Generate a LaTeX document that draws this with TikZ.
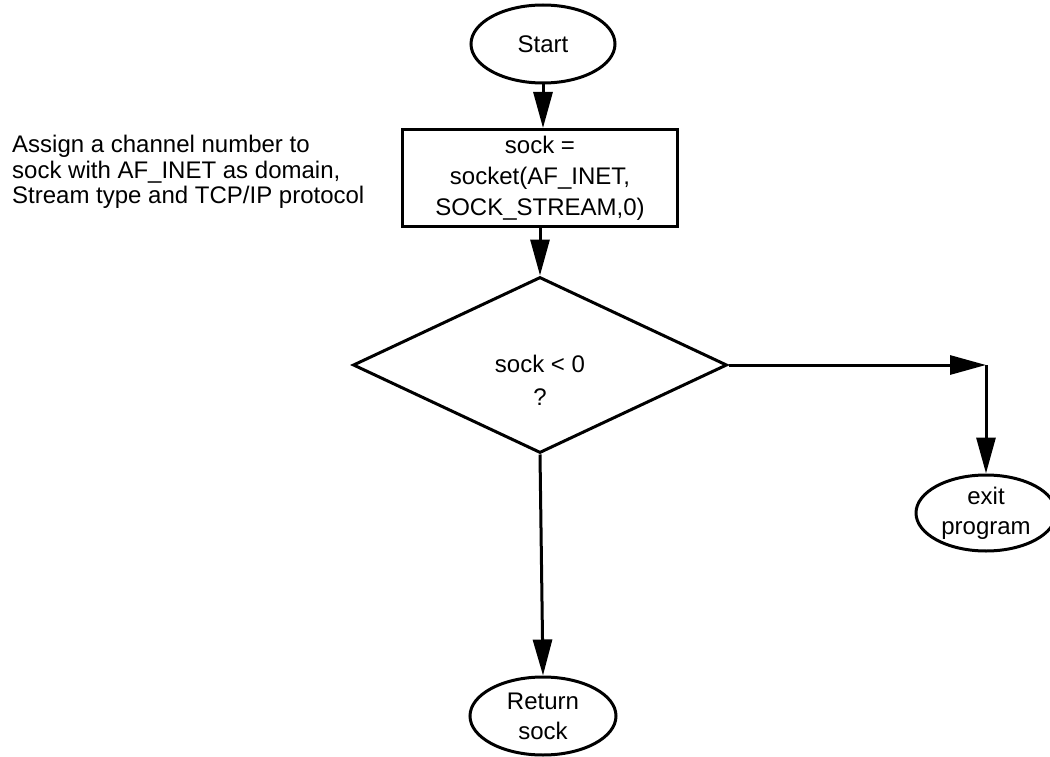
\documentclass[tikz,border=0pt]{standalone}
\usepackage{fontspec}
\setmainfont{Liberation Sans}
\usetikzlibrary{shapes.geometric,arrows.meta}
\begin{document}
\begin{tikzpicture}[x=1pt,y=-1pt,
  every node/.style={font=\fontsize{24}{30}\selectfont,inner sep=0pt},
  flow/.style={line width=3pt},
  arr/.style={flow,-{Triangle[length=36pt,width=19pt]}},
  term/.style={draw,line width=3pt,ellipse,minimum width=144pt,minimum height=78pt,align=center},
  proc/.style={draw,line width=3pt,minimum width=275pt,minimum height=97pt,align=center,
    font=\fontsize{24}{31}\selectfont},
  test/.style={draw,line width=3pt,diamond,minimum width=374pt,minimum height=176pt},
  note/.style={align=left,font=\fontsize{24}{25.5}\selectfont}]
\useasboundingbox (0,0) rectangle (1050,757);

% terminals, process box and decision
\node[term] (start) at (543,44) {Start};
\node[proc] (sock) at (540,178) {sock =\\socket(AF\_INET,\\SOCK\_STREAM,0)};
\node[test] (check) at (540,365) {};
\node[align=center,font=\fontsize{24}{33}\selectfont] (cond) at (540,380) {sock < 0\\?};
\node[term,minimum width=140pt,minimum height=76pt] (exit) at (986,513) {exit\\program};
\node[term,minimum width=146pt] (ret) at (543,716) {Return\\sock};

% explanation beside the socket call
\node[note,anchor=west] (why) at (12,172)
  {Assign a channel number to\\sock with AF\_INET as domain,\\Stream type and TCP/IP protocol};

% flow
\coordinate (bend) at (exit.north |- check.east);
\draw[arr] (start) -- (start |- sock.north);
\draw[arr] (sock.south -| check.north) -- (check.north);
\draw[arr] (check.east) -- (bend);
\draw[arr] (bend) -- (exit.north);
\draw[arr] (check.south) -- (ret.north);
\end{tikzpicture}
\end{document}
